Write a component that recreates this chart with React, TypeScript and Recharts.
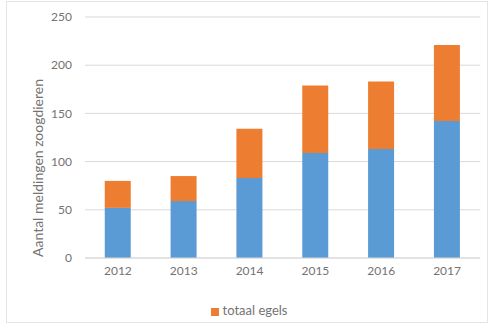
import React from 'react';
import { BarChart, Bar, XAxis, YAxis, CartesianGrid, Legend } from 'recharts';

const years = ['2012', '2013', '2014', '2015', '2016', '2017'];
const zoogdieren = [52, 59, 83, 109, 113, 142];
const egels = [28, 26, 51, 70, 70, 79];
const yTicks = [0, 50, 100, 150, 200, 250];

const data = years.map((year, i) => ({ year, zoogdieren: zoogdieren[i], egels: egels[i] }));

const FONT = 'Lato, "Open Sans", sans-serif';
const TEXT = '#737373';

function YTitle() {
  return (
    <text
      x={37}
      y={168}
      transform="rotate(-90 37 168)"
      textAnchor="middle"
      dominantBaseline="central"
      fill={TEXT}
      fontSize={14}
      fontFamily={FONT}
    >
      Aantal meldingen zoogdieren
    </text>
  );
}

export default function App() {
  return (
    <div style={{ position: 'absolute', left: 0, top: 0, width: 488, height: 332, background: '#fff' }}>
      <div
        style={{
          position: 'absolute',
          left: 6,
          top: 1,
          width: 480,
          height: 320,
          border: '1px solid #e4e4e4',
        }}
      />
      <div style={{ position: 'absolute', left: 0, top: 0 }}>
        <BarChart
          width={488}
          height={332}
          data={data}
          margin={{ top: 17, right: 8, left: 0, bottom: 28 }}
          barCategoryGap="30%"
        >
          <CartesianGrid vertical={false} stroke="#d9d9d9" />
          <XAxis
            dataKey="year"
            axisLine={{ stroke: '#d9d9d9' }}
            tickLine={false}
            height={30}
            tick={{ fill: TEXT, fontSize: 12, fontFamily: FONT }}
          />
          <YAxis
            width={85}
            domain={[0, 250]}
            ticks={yTicks}
            axisLine={false}
            tickLine={false}
            tickMargin={7}
            tick={{ fill: TEXT, fontSize: 12, fontFamily: FONT }}
            label={{ content: () => <YTitle /> }}
          />
          <Legend
            verticalAlign="bottom"
            iconType="square"
            iconSize={8}
            wrapperStyle={{ fontSize: 13, fontFamily: FONT, color: TEXT, bottom: 14, paddingLeft: 14 }}
            formatter={(value) => <span style={{ color: TEXT }}>{value}</span>}
          />
          <Bar dataKey="zoogdieren" stackId="a" fill="#5b9bd5" legendType="none" isAnimationActive={false} />
          <Bar dataKey="egels" name="totaal egels" stackId="a" fill="#ed7d31" isAnimationActive={false} />
        </BarChart>
      </div>
    </div>
  );
}
